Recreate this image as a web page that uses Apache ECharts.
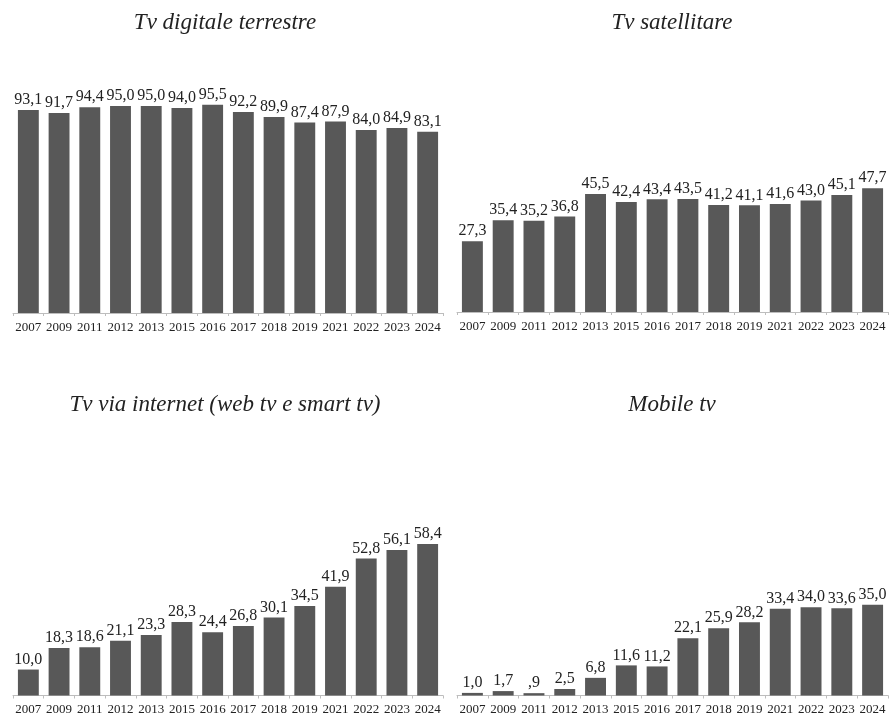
<!DOCTYPE html>
<html>
<head>
<meta charset="utf-8">
<script src="https://cdn.jsdelivr.net/npm/echarts@6/dist/echarts.min.js"></script>
<style>
  html, body { margin: 0; padding: 0; background: #fff; }
  #chart { width: 890px; height: 719px; }
</style>
</head>
<body>
<div id="chart"></div>
<script>
// Survey years shown on every panel
const years = ['2007', '2009', '2011', '2012', '2013', '2015', '2016', '2017', '2018', '2019', '2021', '2022', '2023', '2024'];

// Share of users per TV platform (%)
const tvDigitaleTerrestre = [93.1, 91.7, 94.4, 95.0, 95.0, 94.0, 95.5, 92.2, 89.9, 87.4, 87.9, 84.0, 84.9, 83.1];
const tvSatellitare = [27.3, 35.4, 35.2, 36.8, 45.5, 42.4, 43.4, 43.5, 41.2, 41.1, 41.6, 43.0, 45.1, 47.7];
const tvViaInternet = [10.0, 18.3, 18.6, 21.1, 23.3, 28.3, 24.4, 26.8, 30.1, 34.5, 41.9, 52.8, 56.1, 58.4];
const mobileTv = [1.0, 1.7, 0.9, 2.5, 6.8, 11.6, 11.2, 22.1, 25.9, 28.2, 33.4, 34.0, 33.6, 35.0];

const panelTitles = ['Tv digitale terrestre', 'Tv satellitare', 'Tv via internet (web tv e smart tv)', 'Mobile tv'];
const panelData = [tvDigitaleTerrestre, tvSatellitare, tvViaInternet, mobileTv];
const panelMax = [100, 84, 84, 84];

const SERIF = '"Liberation Serif", "Times New Roman", serif';
const BAR = '#585858';

// Panel geometry: left edge, baseline of the bars, title centre
const panels = [
  { left: 13,  width: 430, base: 313,   titleX: 225, titleY: 23 },
  { left: 457, width: 431, base: 312,   titleX: 672, titleY: 23 },
  { left: 13,  width: 430, base: 695.5, titleX: 225, titleY: 405 },
  { left: 457, width: 431, base: 695.5, titleX: 672, titleY: 405 }
];
const plotH = 218;

// Italian decimal comma; a leading zero is dropped (0,9 -> ,9)
function fmt(v) {
  return v.toFixed(1).replace('.', ',').replace(/^0,/, ',');
}

const grid = [], xAxis = [], yAxis = [], series = [], graphic = [];
panels.forEach((p, i) => {
  grid.push({ left: p.left, width: p.width, top: p.base - plotH, height: plotH });
  xAxis.push({
    type: 'category',
    gridIndex: i,
    data: years,
    axisLine: { show: true, lineStyle: { color: '#bdbdbd', width: 1 } },
    axisTick: { show: true, alignWithLabel: false, length: 3, lineStyle: { color: '#bdbdbd' } },
    axisLabel: { interval: 0, margin: 8, fontFamily: SERIF, fontSize: 13, color: '#222' }
  });
  yAxis.push({
    type: 'value',
    gridIndex: i,
    min: 0,
    max: panelMax[i],
    show: false,
    splitLine: { show: false }
  });
  series.push({
    type: 'bar',
    xAxisIndex: i,
    yAxisIndex: i,
    data: panelData[i],
    barCategoryGap: '32%',
    itemStyle: { color: BAR },
    label: {
      show: true,
      position: 'top',
      distance: 2,
      fontFamily: SERIF,
      fontSize: 16,
      color: '#222',
      formatter: (q) => fmt(q.value)
    },
    silent: true
  });
  graphic.push({
    type: 'text',
    x: p.titleX,
    y: p.titleY,
    style: {
      text: panelTitles[i],
      font: 'italic 23px ' + SERIF,
      fill: '#222',
      textAlign: 'center',
      textVerticalAlign: 'middle'
    }
  });
});

const chart = echarts.init(document.getElementById('chart'), null, { renderer: 'canvas' });
chart.setOption({
  animation: false,
  backgroundColor: '#fff',
  grid, xAxis, yAxis, series, graphic
});
</script>
</body>
</html>
